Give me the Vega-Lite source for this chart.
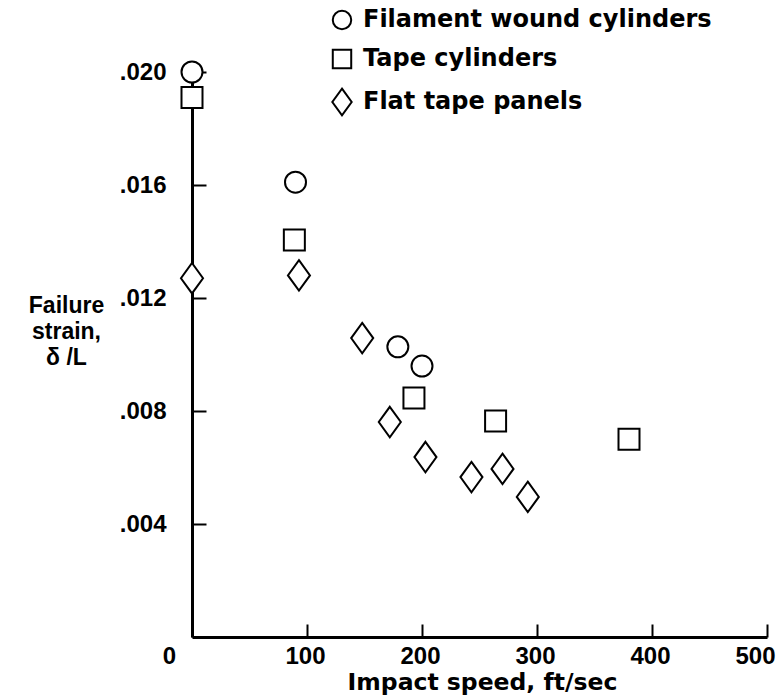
{
  "$schema": "https://vega.github.io/schema/vega-lite/v6.json",
  "autosize": "none",
  "width": 575,
  "height": 565,
  "padding": {"left": 192, "top": 72, "right": 14, "bottom": 59},
  "background": "white",
  "config": {"view": {"stroke": null}},
  "data": {"values": [
    {"type": "Filament wound cylinders", "speed": 0, "strain": 0.0200},
    {"type": "Filament wound cylinders", "speed": 90, "strain": 0.0161},
    {"type": "Filament wound cylinders", "speed": 179, "strain": 0.01027},
    {"type": "Filament wound cylinders", "speed": 200, "strain": 0.00959},
    {"type": "Tape cylinders", "speed": 0, "strain": 0.0191},
    {"type": "Tape cylinders", "speed": 89, "strain": 0.01405},
    {"type": "Tape cylinders", "speed": 193, "strain": 0.00846},
    {"type": "Tape cylinders", "speed": 264, "strain": 0.00765},
    {"type": "Tape cylinders", "speed": 380, "strain": 0.0070},
    {"type": "Flat tape panels", "speed": 0, "strain": 0.0127},
    {"type": "Flat tape panels", "speed": 93, "strain": 0.0128},
    {"type": "Flat tape panels", "speed": 148, "strain": 0.01058},
    {"type": "Flat tape panels", "speed": 172, "strain": 0.00761},
    {"type": "Flat tape panels", "speed": 203, "strain": 0.00637},
    {"type": "Flat tape panels", "speed": 243, "strain": 0.00566},
    {"type": "Flat tape panels", "speed": 270, "strain": 0.00595},
    {"type": "Flat tape panels", "speed": 292, "strain": 0.00496}
  ]},
  "mark": {"type": "point", "filled": false, "fill": "white", "strokeWidth": 2, "size": 441, "opacity": 1},
  "encoding": {
    "x": {
      "field": "speed", "type": "quantitative",
      "scale": {"domain": [0, 500], "nice": false, "zero": true},
      "axis": {
        "values": [0, 100, 200, 300, 400, 500],
        "title": "Impact speed, ft/sec",
        "titleFont": "DejaVu Sans", "titleFontWeight": "bold", "titleFontSize": 23.5, "titleColor": "black",
        "titleX": 290, "titleY": 52, "titleBaseline": "alphabetic", "titleAnchor": null, "titleAlign": "center",
        "labelFont": "Liberation Sans", "labelFontWeight": "bold", "labelFontSize": 24, "labelColor": "black",
        "labelOffset": {"condition": [{"test": "datum.value === 0", "value": -23}, {"test": "datum.value === 500", "value": -12}], "value": -2},
        "labelBaseline": "top",
        "labelPadding": 20,
        "labelFlush": false,
        "labelOverlap": false,
        "tickSize": -13, "tickWidth": 2, "tickColor": "black",
        "domainColor": "black", "domainWidth": 3,
        "grid": false
      }
    },
    "y": {
      "field": "strain", "type": "quantitative",
      "scale": {"domain": [0, 0.02], "nice": false},
      "axis": {
        "values": [0.004, 0.008, 0.012, 0.016, 0.02],
        "labelExpr": "replace(format(datum.value, '.3f'), '0.', '.')",
        "title": ["Failure", "strain,", "δ /L"],
        "titleFont": "Liberation Sans", "titleFontWeight": "bold", "titleFontSize": 23, "titleColor": "black",
        "titleAngle": 0, "titleAlign": "center", "titleBaseline": "alphabetic",
        "titleX": -126, "titleY": 240, "titleLineHeight": 26,
        "labelFont": "Liberation Sans", "labelFontWeight": "bold", "labelFontSize": 24, "labelColor": "black",
        "labelPadding": 40,
        "labelFlush": false,
        "labelOverlap": false,
        "tickSize": -14, "tickWidth": 2, "tickColor": "black",
        "domainColor": "black", "domainWidth": 3,
        "grid": false
      }
    },
    "stroke": {
      "field": "type", "type": "nominal",
      "scale": {
        "domain": ["Filament wound cylinders", "Tape cylinders", "Flat tape panels"],
        "range": ["black", "black", "black"]
      }
    },
    "shape": {
      "field": "type", "type": "nominal",
      "scale": {
        "domain": ["Filament wound cylinders", "Tape cylinders", "Flat tape panels"],
        "range": ["circle", "square", "M0,-1.45L1.05,0L0,1.45L-1.05,0Z"]
      },
      "legend": {
        "orient": "none", "legendX": 138, "legendY": -64,
        "title": null, "padding": 0,
        "symbolSize": 340, "symbolStrokeWidth": 2, "symbolFillColor": "white",
        "labelFont": "DejaVu Sans", "labelFontWeight": "bold", "labelFontSize": 24, "labelColor": "black",
        "labelOffset": 9, "rowPadding": 11, "labelLimit": 500
      }
    }
  }
}
